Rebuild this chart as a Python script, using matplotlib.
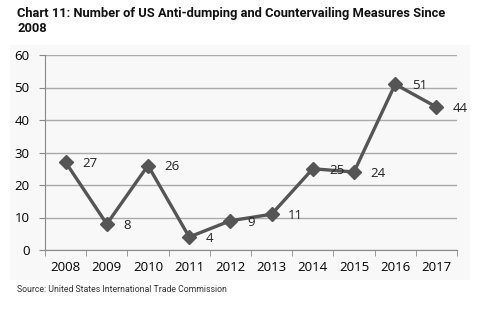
import matplotlib
matplotlib.use("Agg")
import matplotlib.pyplot as plt

years = ["2008", "2009", "2010", "2011", "2012", "2013", "2014", "2015", "2016", "2017"]
measures = [27, 8, 26, 4, 9, 11, 25, 24, 51, 44]
yticks = [0, 10, 20, 30, 40, 50, 60]

W, H = 480, 321
fig = plt.figure(figsize=(W / 100, H / 100), dpi=100)
fig.patch.set_facecolor("white")

# light panel behind the chart
bg = fig.add_axes([10 / W, 1 - 280 / H, 460 / W, 235 / H], zorder=0)
bg.set_facecolor("#f8f8f8")
bg.set_xticks([])
bg.set_yticks([])
for s in bg.spines.values():
    s.set_visible(False)

ax = fig.add_axes([45 / W, 1 - 250 / H, 412 / W, 195 / H], zorder=1)
ax.set_facecolor("none")

x = list(range(len(years)))
ax.plot(x, measures, color="#555555", lw=2.4, marker="D", ms=7,
        markerfacecolor="#555555", markeredgecolor="#555555", zorder=3)
for xi, v in zip(x, measures):
    ax.annotate(str(v), (xi, v), xytext=(12, -1), textcoords="offset points",
                ha="left", va="center", fontsize=9.5, family="Open Sans",
                color="#222222")

ax.set_xlim(-0.5, len(years) - 0.5)
ax.set_ylim(0, 60)
ax.set_yticks(yticks)
ax.set_yticklabels([str(t) for t in yticks], fontsize=9.5, family="Open Sans")
ax.set_xticks(x)
ax.set_xticklabels(years, fontsize=9.5, family="Open Sans")
ax.set_xticks([i + 0.5 for i in range(-1, len(years))], minor=True)
ax.tick_params(axis="x", which="major", length=0, pad=8)
ax.tick_params(axis="x", which="minor", length=4, color="#888888")
ax.tick_params(axis="y", length=4, color="#888888", pad=7)
ax.grid(axis="y", color="#aaaaaa", lw=1)
ax.set_axisbelow(True)
for s in ["top", "right"]:
    ax.spines[s].set_visible(False)
ax.spines["left"].set_color("#888888")
ax.spines["bottom"].set_color("#888888")

fig.text(17 / W, 1 - 7 / H, "Chart 11: Number of US Anti-dumping and Countervailing Measures Since\n2008",
         ha="left", va="top", fontsize=9.3, fontweight="bold", family="Roboto",
         linespacing=1.25, color="#111111")
fig.text(17 / W, 1 - 289 / H, "Source: United States International Trade Commission",
         ha="left", va="center", fontsize=6.3, family="Roboto", color="#333333")

fig.savefig("out.png", dpi=100)
